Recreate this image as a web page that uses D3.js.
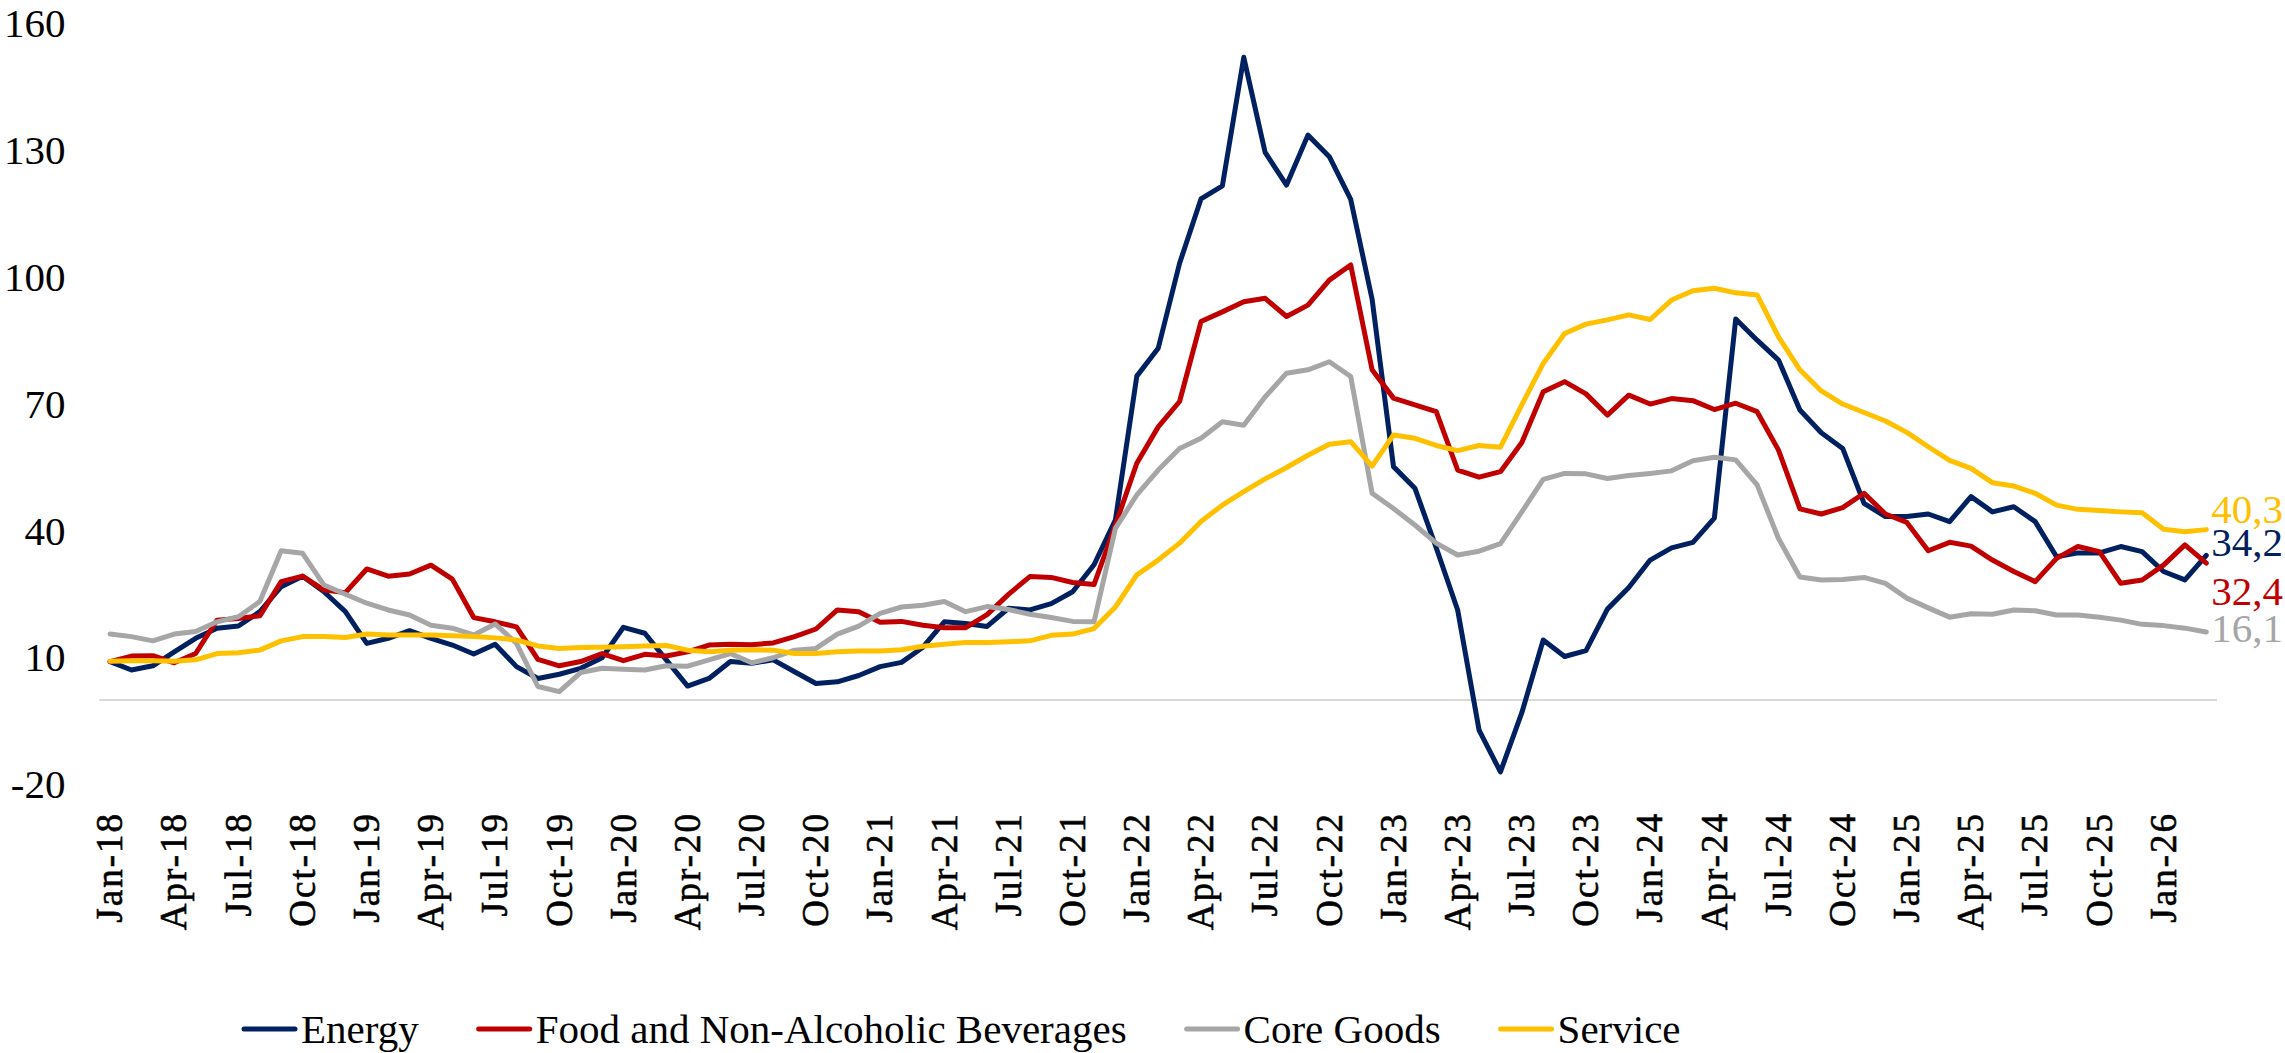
<!DOCTYPE html>
<html>
<head>
<meta charset="utf-8">
<script src="https://cdn.jsdelivr.net/npm/d3@7"></script>
<style>
  html, body { margin: 0; padding: 0; background: #fff; }
  svg { display: block; }
</style>
</head>
<body>
<svg id="chart" width="2285" height="1053"></svg>
<script>
// Monthly categories, Jan-18 through Mar-26
const monthNames = ["Jan","Feb","Mar","Apr","May","Jun","Jul","Aug","Sep","Oct","Nov","Dec"];
const yearSuffixes = ["18","19","20","21","22","23","24","25","26"];
const categories = [];
yearSuffixes.forEach(yr => monthNames.forEach(m => categories.push(m + "-" + yr)));
categories.length = 99;

const tickLabels = [
  "Jan-18","Apr-18","Jul-18","Oct-18","Jan-19","Apr-19","Jul-19","Oct-19",
  "Jan-20","Apr-20","Jul-20","Oct-20","Jan-21","Apr-21","Jul-21","Oct-21",
  "Jan-22","Apr-22","Jul-22","Oct-22","Jan-23","Apr-23","Jul-23","Oct-23",
  "Jan-24","Apr-24","Jul-24","Oct-24","Jan-25","Apr-25","Jul-25","Oct-25","Jan-26"
];

const yTicks = [-20, 10, 40, 70, 100, 130, 160];

const energy = [
  9.1, 7.1, 8.1, 11.4, 14.6, 17.0, 17.5, 20.9, 26.8, 29.3, 25.6, 20.9,
  13.4, 14.6, 16.4, 14.6, 13.0, 10.9, 13.2, 7.9, 5.1, 6.1, 7.5, 10.0,
  17.2, 15.8, 9.5, 3.3, 5.1, 9.1, 8.7, 9.5, 6.7, 3.9, 4.3, 5.8,
  7.9, 8.9, 12.5, 18.5, 18.1, 17.4, 21.7, 21.3, 22.8, 25.6, 32.0, 42.6,
  76.6, 83.2, 103.3, 118.5, 121.6, 152.0, 129.5, 121.8, 133.6, 128.5, 118.4, 94.8,
  55.2, 50.1, 36.0, 21.3, -7.1, -17.0, -3.0, 14.2, 10.3, 11.7, 21.5, 26.6,
  33.1, 36.0, 37.3, 43.0, 90.1, 85.1, 80.4, 68.6, 63.2, 59.5, 46.5, 43.4,
  43.4, 44.0, 42.2, 48.1, 44.5, 45.7, 42.2, 33.9, 34.8, 34.8, 36.3, 35.1,
  30.4, 28.4, 34.2
];

const food = [
  9.1, 10.4, 10.5, 8.8, 11.0, 18.9, 19.3, 19.9, 28.0, 29.3, 26.0, 25.4,
  31.0, 29.3, 29.8, 31.9, 28.6, 19.5, 18.5, 17.3, 9.6, 8.1, 9.1, 11.0,
  9.3, 10.8, 10.4, 11.4, 13.0, 13.2, 13.1, 13.5, 15.0, 16.8, 21.3, 20.9,
  18.4, 18.6, 17.7, 17.1, 17.1, 20.2, 25.0, 29.2, 29.0, 27.8, 27.3, 41.4,
  56.0, 64.6, 70.6, 89.5, 91.8, 94.2, 95.0, 90.7, 93.4, 99.3, 102.9, 78.1,
  71.4, 69.8, 68.2, 54.4, 52.7, 54.0, 60.9, 72.9, 75.3, 72.4, 67.4, 72.1,
  70.0, 71.3, 70.8, 68.7, 70.2, 68.2, 59.1, 45.2, 44.0, 45.5, 48.9, 44.0,
  42.0, 35.3, 37.3, 36.4, 33.1, 30.4, 28.0, 33.5, 36.3, 35.1, 27.6, 28.4,
  31.9, 36.7, 32.4
];

const coreGoods = [
  15.6, 15.0, 14.0, 15.6, 16.2, 18.5, 19.7, 23.3, 35.3, 34.7, 27.2, 25.0,
  22.9, 21.3, 20.1, 17.7, 17.0, 15.4, 18.0, 13.4, 3.2, 2.0, 6.5, 7.5,
  7.3, 7.1, 8.1, 8.0, 9.5, 11.0, 8.8, 10.0, 11.8, 12.2, 15.6, 17.5,
  20.5, 22.0, 22.4, 23.3, 20.9, 22.1, 21.4, 20.3, 19.5, 18.6, 18.5, 40.6,
  48.5, 54.4, 59.5, 61.9, 65.8, 65.0, 71.7, 77.3, 78.1, 80.0, 76.5, 48.9,
  45.3, 41.4, 37.1, 34.3, 35.2, 37.0, 44.5, 52.2, 53.6, 53.5, 52.4, 53.1,
  53.6, 54.2, 56.6, 57.4, 56.8, 50.9, 38.2, 29.1, 28.4, 28.5, 29.0, 27.6,
  24.1, 21.8, 19.6, 20.4, 20.3, 21.3, 21.1, 20.1, 20.1, 19.6, 18.9, 17.9,
  17.6, 17.0, 16.1
];

const service = [
  9.2, 9.3, 9.3, 9.2, 9.5, 11.0, 11.2, 11.8, 14.0, 15.0, 15.0, 14.8,
  15.6, 15.4, 15.4, 15.4, 15.2, 15.0, 14.7, 14.2, 12.8, 12.2, 12.4, 12.5,
  12.6, 12.8, 12.9, 11.8, 11.4, 11.8, 11.9, 11.8, 11.0, 11.0, 11.4, 11.6,
  11.6, 11.9, 12.7, 13.2, 13.6, 13.6, 13.8, 14.0, 15.3, 15.6, 16.9, 22.0,
  29.6, 33.1, 37.1, 42.2, 46.1, 49.3, 52.3, 55.0, 57.9, 60.5, 61.1, 55.3,
  62.7, 61.9, 60.2, 59.0, 60.2, 59.8, 69.8, 79.6, 86.7, 88.9, 89.9, 91.1,
  90.0, 94.6, 96.8, 97.4, 96.3, 95.8, 85.9, 78.1, 73.1, 70.0, 68.0, 66.0,
  63.3, 59.9, 56.7, 54.8, 51.4, 50.6, 48.9, 46.1, 45.1, 44.8, 44.5, 44.3,
  40.4, 39.8, 40.3
];

const seriesNames = ["Energy", "Food and Non-Alcoholic Beverages", "Core Goods", "Service"];
const seriesValues = [energy, food, coreGoods, service];
const seriesColors = ["#002060", "#C00000", "#A6A6A6", "#FFC000"];

// ---- layout ----
const svg = d3.select("#chart");
const plotLeft = 99.4, plotRight = 2217;
const yTop = 23.5, yBottom = 784.6;

const x = d3.scaleBand().domain(categories).range([plotLeft, plotRight]).paddingInner(0).paddingOuter(0);
const y = d3.scaleLinear().domain([-20, 160]).range([yBottom, yTop]);
const cx = c => x(c) + x.bandwidth() / 2;

svg.append("rect").attr("width", 2285).attr("height", 1053).attr("fill", "#fff");

// zero line
svg.append("line")
  .attr("x1", plotLeft).attr("x2", plotRight)
  .attr("y1", y(0)).attr("y2", y(0))
  .attr("stroke", "#D9D9D9").attr("stroke-width", 2);

// y axis labels (plain hyphen for negatives)
const yAxis = d3.axisLeft(y).tickValues(yTicks).tickSize(0).tickPadding(34).tickFormat(d => String(d));
const gy = svg.append("g").attr("transform", `translate(${plotLeft},0)`).call(yAxis);
gy.select(".domain").remove();
gy.selectAll("text")
  .attr("font-family", "'Liberation Serif', serif")
  .attr("font-size", 41)
  .attr("fill", "#000");

// x axis labels: rotated, wide-set serif
const xAxis = d3.axisBottom(x).tickValues(tickLabels).tickSize(0);
const gx = svg.append("g").attr("transform", `translate(0,${812})`).call(xAxis);
gx.select(".domain").remove();
gx.selectAll("text")
  .attr("font-family", "'Liberation Serif', serif")
  .attr("font-size", 37)
  .attr("letter-spacing", 2)
  .attr("fill", "#000")
  .attr("stroke", "#000")
  .attr("stroke-width", 0.6)
  .attr("text-anchor", "end")
  .attr("transform", "rotate(-90)")
  .attr("x", 0)
  .attr("y", 0)
  .attr("dy", "0.33em");

// series lines
const line = d3.line()
  .x((d, i) => cx(categories[i]))
  .y(d => y(d));

seriesValues.forEach((vals, k) => {
  svg.append("path")
    .datum(vals)
    .attr("d", line)
    .attr("fill", "none")
    .attr("stroke", seriesColors[k])
    .attr("stroke-width", 5)
    .attr("stroke-linejoin", "round")
    .attr("stroke-linecap", "round");
});

// end-of-line value labels
const fmt = v => v.toFixed(1).replace(".", ",");
const endLabelShift = [0.6, 41.5, 9.6, -6.6];
seriesValues.forEach((vals, k) => {
  const last = vals.length - 1;
  svg.append("text")
    .attr("x", cx(categories[last]) + 5)
    .attr("y", y(vals[last]) + endLabelShift[k])
    .attr("font-family", "'Liberation Serif', serif")
    .attr("font-size", 41)
    .attr("fill", seriesColors[k])
    .text(fmt(vals[last]));
});

// legend
const legend = svg.append("g");
let lx = 242;
const legendY = 1029;
seriesNames.forEach((name, k) => {
  legend.append("line")
    .attr("x1", lx + 2).attr("x2", lx + 53)
    .attr("y1", legendY).attr("y2", legendY)
    .attr("stroke", seriesColors[k])
    .attr("stroke-width", 5)
    .attr("stroke-linecap", "round");
  const t = legend.append("text")
    .attr("x", lx + 59)
    .attr("y", 1043)
    .attr("font-family", "'Liberation Serif', serif")
    .attr("font-size", 41)
    .attr("fill", "#000")
    .text(name);
  lx += 59 + t.node().getComputedTextLength() + 58;
});
</script>
</body>
</html>
